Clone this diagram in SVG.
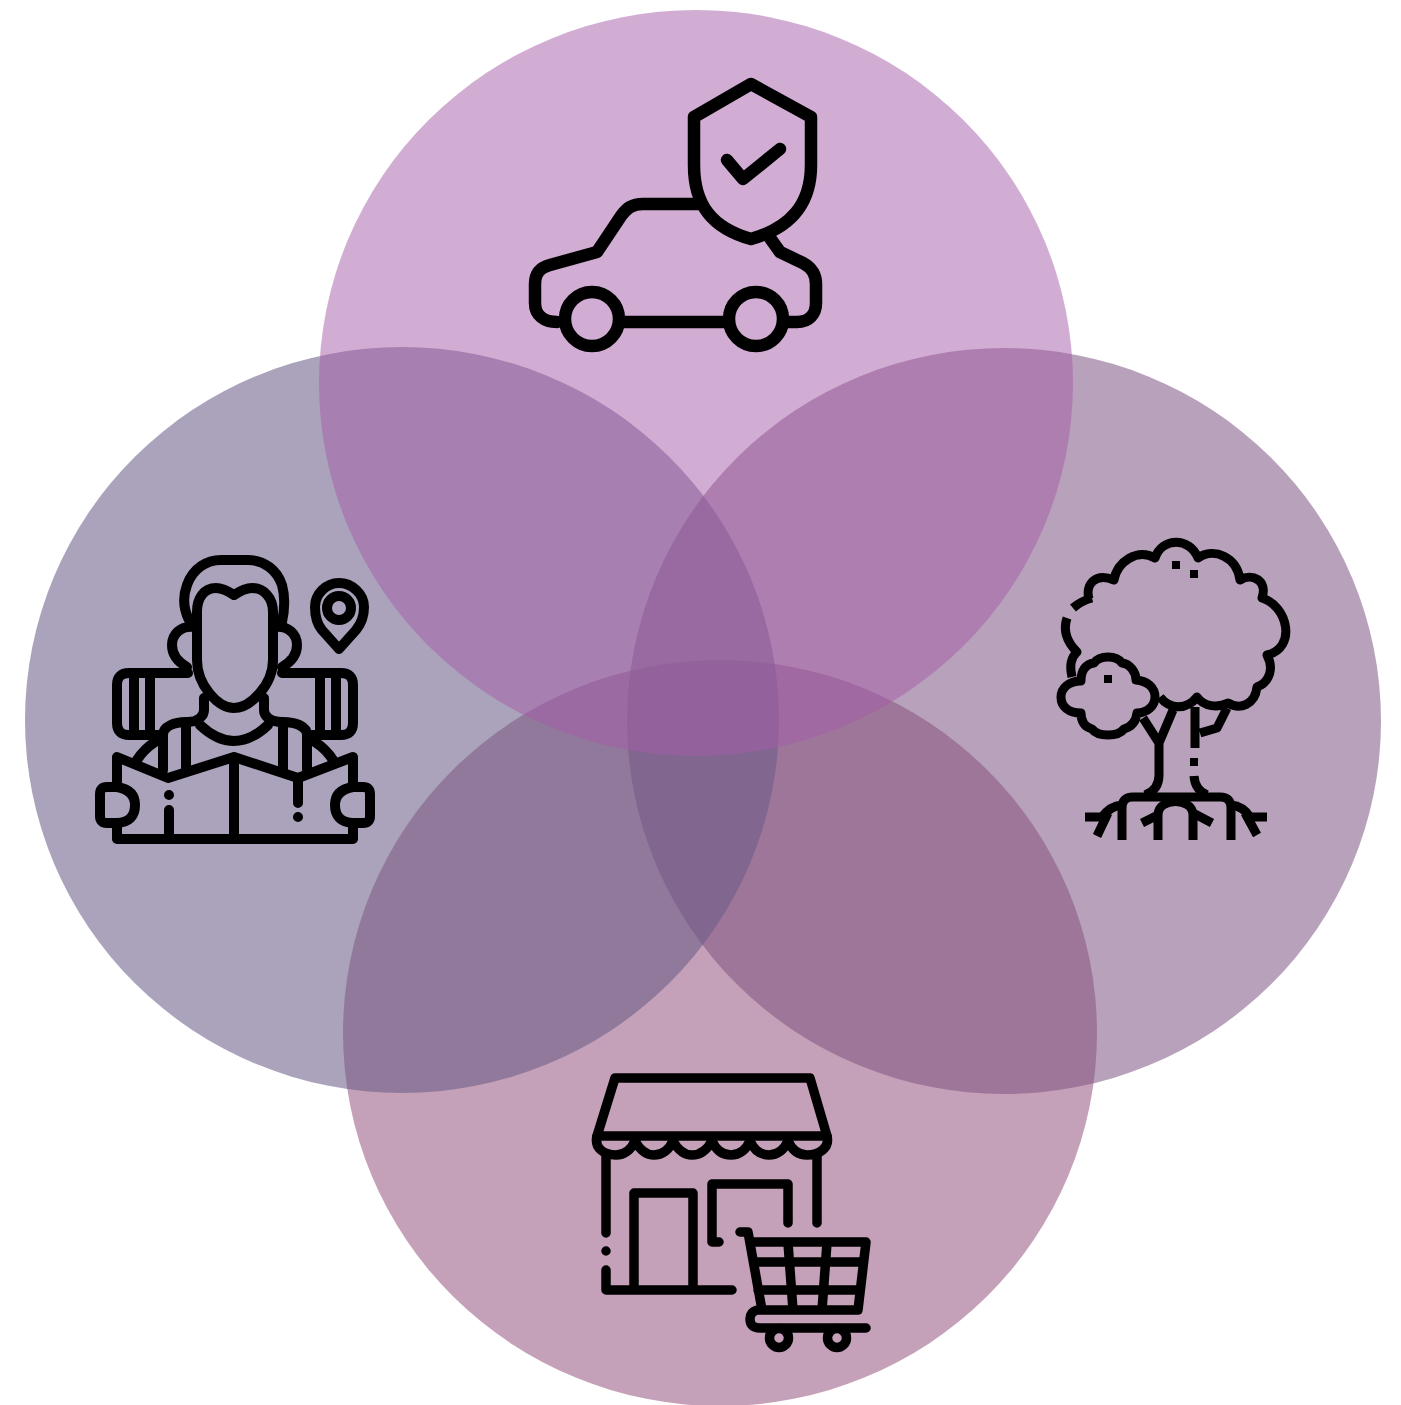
<svg xmlns="http://www.w3.org/2000/svg" width="1401" height="1405" viewBox="0 0 1401 1405">
<style>
.l{fill:none;stroke:#000;stroke-linecap:round;stroke-linejoin:round}
.c{stroke-width:12.5}.t{stroke-width:10}.s{stroke-width:9.5}
.b{stroke-linecap:butt;stroke-linejoin:round;stroke-width:9}
</style>
<rect width="1401" height="1405" fill="#fff"/>
<g id="circles">
<ellipse id="circle-bottom" cx="720" cy="1033" rx="377" ry="373" fill="#894371" fill-opacity=".5"/>
<ellipse id="circle-right" cx="1004" cy="721" rx="377" ry="373" fill="#7d5481" fill-opacity=".55"/>
<ellipse id="circle-left" cx="402" cy="720" rx="377" ry="373" fill="#6b5b87" fill-opacity=".57"/>
<ellipse id="circle-top" cx="696" cy="383" rx="377" ry="373" fill="#a55ba7" fill-opacity=".5"/>
</g>
<g id="icon-car" class="l c">
<path d="M751 84L811 117V165C811 205 790 228 751 239C712 228 694 205 694 165V117Z"/>
<path d="M727 160L743 179L780 149"/>
<path d="M698 204H643C632 204 627 208 621 216L597 252L550 265C539 268 535 274 535 284V303C535 315 544 322 557 322"/>
<path d="M620 322H727M787 322H797C809 322 816 314 816 303V284C816 274 812 268 803 263L780 252L770 238"/>
<circle cx="592" cy="319" r="27"/><circle cx="756" cy="319" r="27"/>
</g>
<g id="icon-traveler" class="l t">
<path d="M234 595C228 591 222 588 216 588C204 588 197 598 197 612V660C197 685 218 708 234 708C250 708 273 685 273 660V612C273 598 264 588 252 588C246 588 240 591 234 595Z"/>
<path d="M189 620C183 608 183 596 187 585C193 568 207 560 221 560H248C264 560 277 570 282 585C285 596 285 608 282 622"/>
<path d="M195 627C180 625 172 635 172 645C172 655 178 662 187 667M274 627C289 625 297 635 297 645C297 655 291 662 282 667"/>
<path d="M188 673H129Q117 673 117 685V723Q117 735 129 735H160M282 673H341Q353 673 353 685V723Q353 735 341 735H310"/>
<path d="M134 673V735M150 673V735M336 673V735M320 673V735"/>
<path d="M204 698V710C204 716 198 722 188 722M264 698V710C264 716 270 722 282 722M200 725Q234 757 268 725"/>
<path d="M163 770V735C163 726 175 722 186 722V770M283 770V722C295 722 307 726 307 735V770"/>
<path d="M137 760Q144 749 155 742M333 760Q326 749 315 742"/>
<path d="M117 787V757L168 778L234 757L298 778L353 757V787M117 823V839H353V823M234 757V839"/>
<path d="M117 787H107Q100 787 100 794V816Q100 823 107 823H117Q135 822 135 805Q135 790 117 787ZM353 787H363Q370 787 370 794V816Q370 823 363 823H353Q335 822 335 805Q335 790 353 787Z"/>
<path d="M169 795V795M169 810V833M298 778V803M298 817V817"/>
<path d="M339 649L322 630C317 624 315 617 315 607C315 594 326 583 339 583C352 583 364 594 364 607C364 617 361 624 356 630Z"/>
<circle cx="339" cy="608" r="12"/>
</g>
<g id="icon-tree" class="l b">
<path d="M1073 608Q1081 601 1092 598"/>
<path d="M1089 599C1085 585 1095 572 1114 580C1117 562 1137 548 1155 558C1162 537 1190 537 1198 558C1214 547 1237 557 1240 580C1252 573 1268 580 1262 598C1288 606 1297 648 1267 655C1274 668 1270 682 1257 687C1255 705 1240 710 1228 703C1218 708 1204 707 1197 697C1187 710 1170 710 1160 697"/>
<path d="M1067 618C1063 630 1067 642 1077 652Q1068 660 1072 677"/>
<path d="M1081 681C1081 670 1086 664 1094 663C1100 655 1116 655 1122 663C1130 664 1136 672 1136 680C1148 681 1155 688 1155 697C1155 706 1147 713 1137 713C1136 722 1131 727 1124 729C1118 737 1098 737 1092 729C1085 727 1081 722 1081 713C1069 713 1061 707 1061 697C1061 688 1069 681 1081 681Z"/>
<path d="M1143 718L1159 743L1173 710M1159 743V775Q1159 790 1145 795"/>
<path d="M1195 707V748M1194 776Q1195 790 1207 795M1200 733L1217 728L1227 708"/>
<path d="M1122 840V808Q1122 797 1133 797H1220Q1231 797 1231 808V840"/>
<path d="M1158 840V815C1158 797 1193 797 1193 815V840"/>
<path d="M1085 817H1102Q1110 806 1122 805M1097 836L1108 813M1267 817H1250Q1243 806 1231 805M1257 835L1245 813M1142 823L1158 815M1212 823L1193 813"/>
<path d="M1172 565h8M1190 574h8M1104 679h8M1190 762h8" style="stroke-width:8"/>
</g>
<g id="icon-store" class="l s">
<path d="M597 1136L615 1078H810L827 1136Z"/>
<path d="M597 1136C594 1148 604 1155 616 1155C624 1155 631 1150 635 1141C640 1150 646 1155 654 1155C662 1155 669 1150 673 1141C678 1150 684 1155 692 1155C700 1155 707 1150 712 1141C716 1150 722 1155 731 1155C739 1155 746 1150 750 1141C754 1150 760 1155 769 1155C777 1155 784 1150 788 1141C792 1150 798 1155 807 1155C819 1155 830 1148 827 1136"/>
<path d="M606 1155V1233M606 1251V1251M606 1270V1290H732M634 1290V1193H693V1290"/>
<path d="M719 1242H712V1184H788V1223M817 1155V1223"/>
<path d="M740 1232H748L762 1310M750 1242H866L858 1310H757Q750 1312 750 1319Q750 1328 760 1328H866M755 1262H863M758 1290H860M788 1243L793 1310M827 1243L822 1310"/>
<circle cx="779" cy="1338" r="9.5"/><circle cx="837" cy="1338" r="9.5"/>
</g>
</svg>
